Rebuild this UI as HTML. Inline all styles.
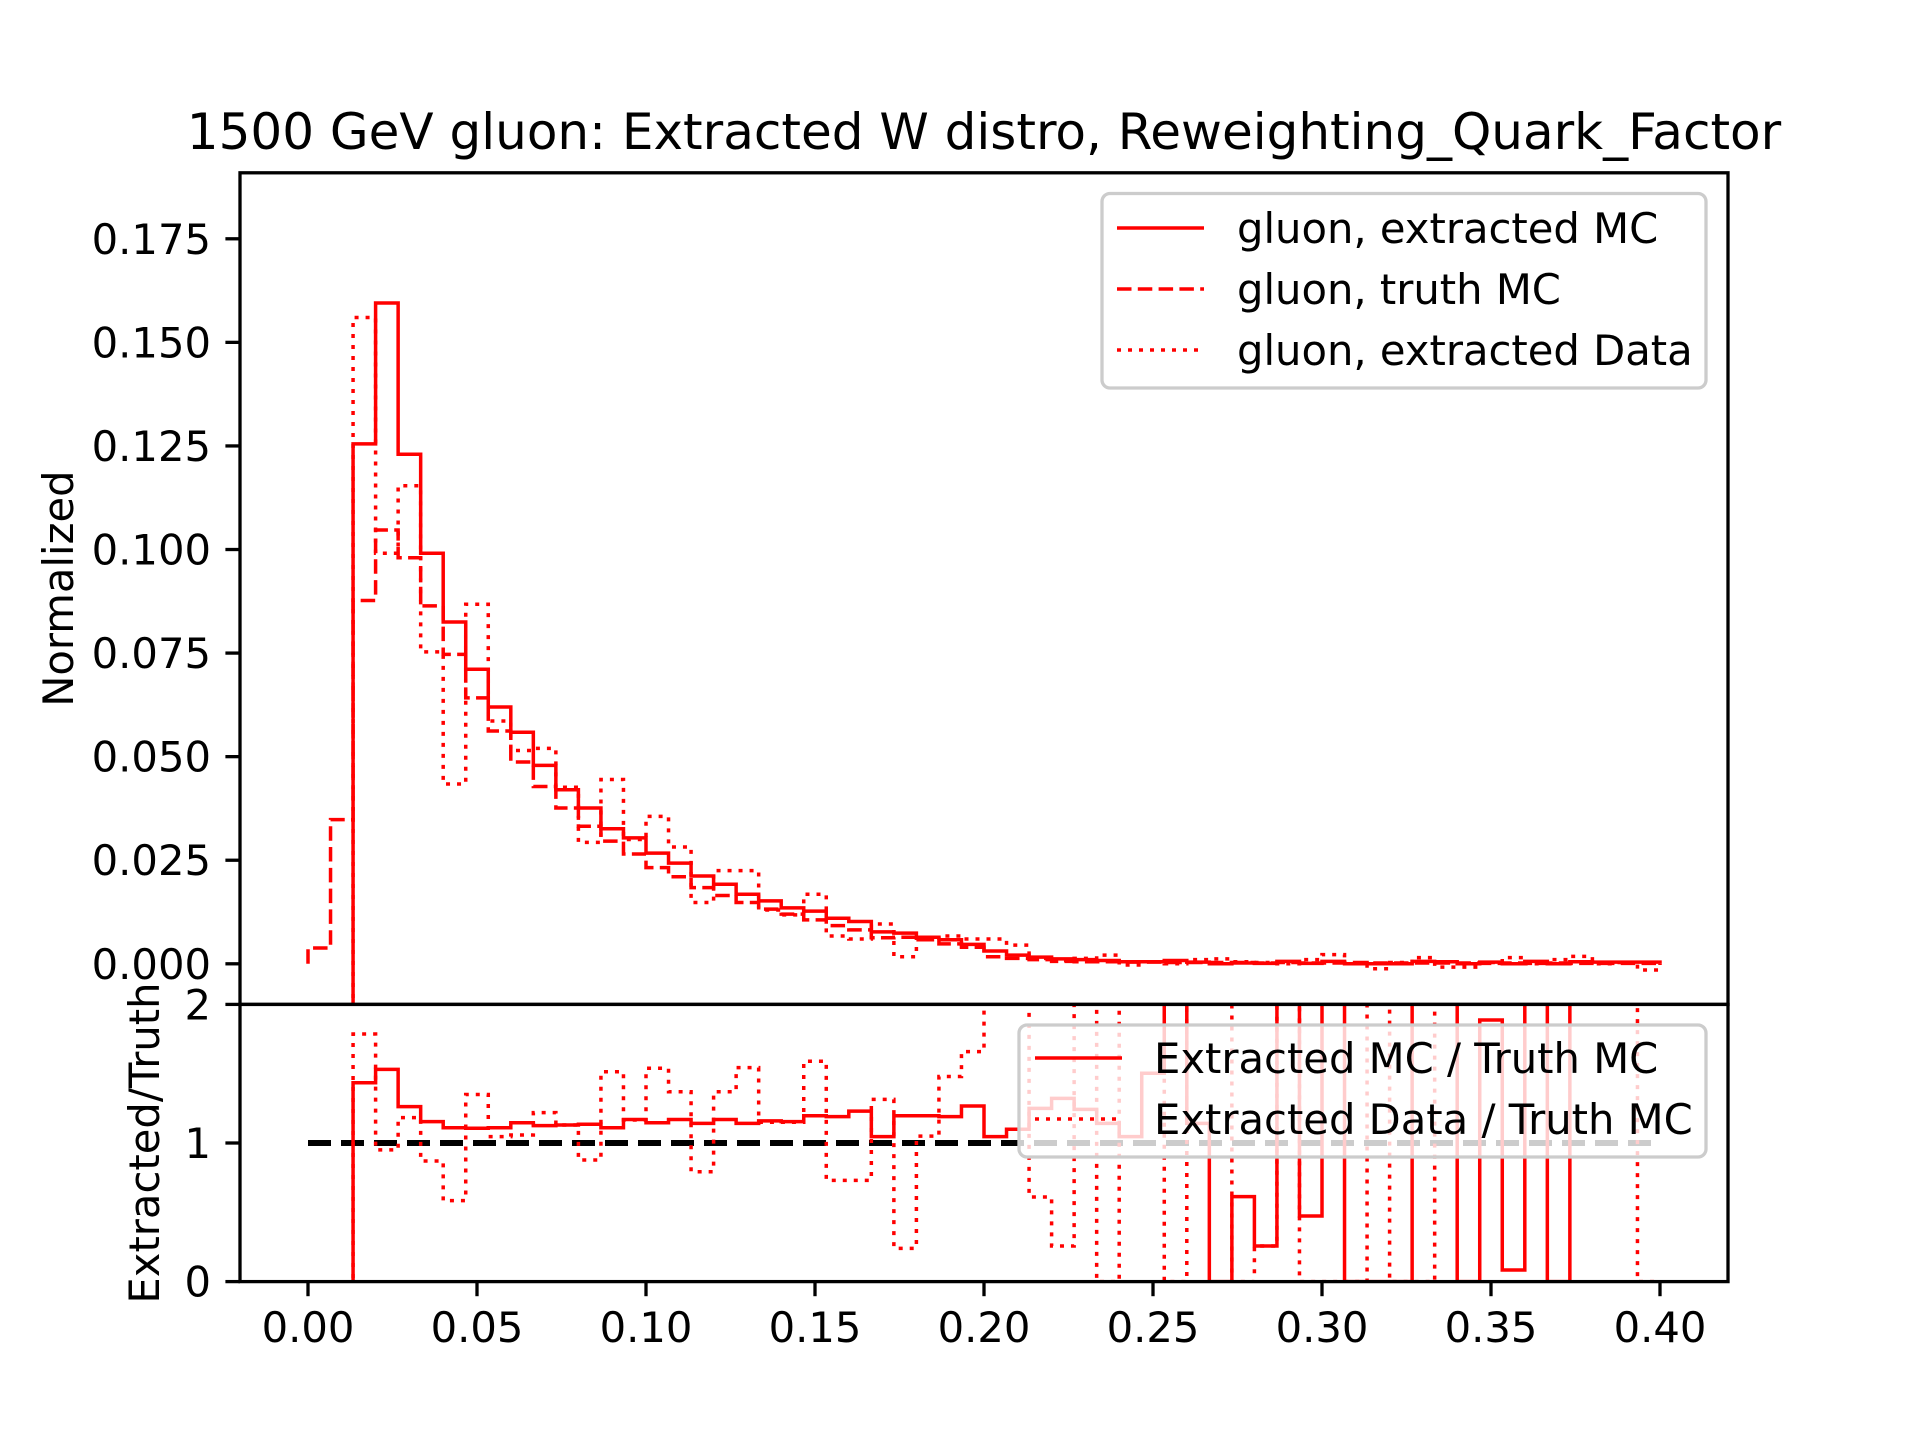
<!DOCTYPE html>
<html><head><meta charset="utf-8"><style>
html,body{margin:0;padding:0;background:#fff;}
svg{display:block;font-family:"DejaVu Sans","Liberation Sans",sans-serif;}
</style></head><body>
<svg id="fig" width="1920" height="1440" viewBox="0 0 1920 1440" xmlns="http://www.w3.org/2000/svg">
<defs>
<clipPath id="clipTop"><rect x="240" y="172.8" width="1488" height="831.6"/></clipPath>
<clipPath id="clipRat"><rect x="240" y="1004.4" width="1488" height="277.2"/></clipPath>
</defs>
<rect width="1920" height="1440" fill="#fff"/>
<text x="984" y="149" font-size="50" text-anchor="middle">1500 GeV gluon: Extracted W distro, Reweighting_Quark_Factor</text>
<g id="topMarks" clip-path="url(#clipTop)"></g>
<g id="ratMarks" clip-path="url(#clipRat)"></g>
<g id="axes"></g>
<text transform="translate(73,588.6) rotate(-90)" font-size="41.7" text-anchor="middle">Normalized</text>
<text transform="translate(159,1143) rotate(-90)" font-size="41.7" text-anchor="middle">Extracted/Truth</text>
<g>
<rect x="1102" y="193.5" width="604" height="194.5" rx="8" fill="#fff" fill-opacity="0.8" stroke="#cccccc" stroke-width="3.3"/>
<line x1="1117" y1="228" x2="1204" y2="228" stroke="#ff0000" stroke-width="3.5"/>
<text x="1237" y="243" font-size="41.7">gluon, extracted MC</text>
<line x1="1117" y1="289" x2="1204" y2="289" stroke="#ff0000" stroke-width="3.5" stroke-dasharray="14.5 6.3"/>
<text x="1237" y="304" font-size="41.7">gluon, truth MC</text>
<line x1="1117" y1="350" x2="1204" y2="350" stroke="#ff0000" stroke-width="3.5" stroke-dasharray="4 7"/>
<text x="1237" y="365" font-size="41.7">gluon, extracted Data</text>
</g>
<g>
<rect x="1019" y="1025" width="687" height="132" rx="8" fill="#fff" fill-opacity="0.8" stroke="#cccccc" stroke-width="3.3"/>
<line x1="1035" y1="1058" x2="1122" y2="1058" stroke="#ff0000" stroke-width="3.5"/>
<text x="1154" y="1073" font-size="41.7">Extracted MC / Truth MC</text>
<line x1="1035" y1="1119" x2="1122" y2="1119" stroke="#ff0000" stroke-width="3.5" stroke-dasharray="4 7"/>
<text x="1154" y="1134" font-size="41.7">Extracted Data / Truth MC</text>
</g>
</svg>
<script>
const binLo = 0, binHi = 0.4, nBins = 60;
const truthMC = [0.0038,0.0348,0.0877,0.1047,0.098,0.0864,0.0747,0.0642,0.0562,0.0487,0.0428,0.0376,0.0332,0.0296,0.0265,0.0232,0.021,0.0184,0.0165,0.0148,0.0132,0.012,0.0106,0.0092,0.0082,0.0063,0.0064,0.0058,0.0048,0.004,0.0017,0.0013,0.001,0.0006,0.0005,0.0005,0.0004,0.0004,0.0003,0.0003,0.0003,0.0003,0.0002,0.0003,0.0002,0.0002,0.0003,0.0002,0.0002,0.0002,0.0002,0.0002,0.0001,0.0002,0.0001,0.0002,0.0001,0.0001,0.0001,0.0001];
const extractedMC = [null,null,0.1255,0.1595,0.123,0.0991,0.0825,0.0711,0.062,0.0559,0.0479,0.042,0.0376,0.0326,0.0304,0.0267,0.0243,0.0212,0.0192,0.0168,0.0152,0.0135,0.0127,0.011,0.0102,0.0077,0.0074,0.0064,0.0058,0.0047,0.0031,0.0021,0.0016,0.0012,0.001,0.0008,0.0005,0.0005,0.0008,0.0004,0,0.0002,0.0001,0.0006,0.0001,0.0006,0,0,0,0.0006,0.0005,0,0.0004,0,0.0006,0,0.0005,0.0004,0.0004,0.0004];
const extractedData = [null,null,0.156,0.0991,0.1154,0.0753,0.0434,0.0868,0.0586,0.0515,0.052,0.0426,0.0293,0.0445,0.030,0.0356,0.0282,0.0148,0.0225,0.0225,0.013,0.0118,0.0168,0.0067,0.006,0.0096,0.0017,0.0058,0.0067,0.006,0.006,0.0045,0.0013,0.0008,0.0013,0.0021,-0.0003,0.0005,0,0.001,0.0012,0.0005,0.0003,0,0.001,0.0022,0,-0.0012,0.0003,0.0015,-0.0008,-0.0008,0.0003,0.0015,0,0.001,0.0018,0,0.0003,-0.0015];
const ratioMC = [null,null,1.435,1.531,1.262,1.154,1.11,1.106,1.11,1.146,1.125,1.13,1.135,1.11,1.17,1.146,1.17,1.142,1.17,1.142,1.16,1.154,1.197,1.19,1.23,1.046,1.197,1.197,1.19,1.267,1.046,1.099,1.25,1.322,1.243,1.142,1.046,1.503,3,1.142,0,0.613,0.257,3,0.473,3,0,0,0,3,3,0,1.887,0.084,3,0,3,null,null,null];
const ratioData = [null,null,1.786,0.95,1.183,0.87,0.584,1.35,1.046,1.058,1.219,1.13,0.877,1.514,1.166,1.539,1.37,0.793,1.37,1.544,1.15,1.15,1.59,0.73,0.73,1.315,0.24,1.05,1.48,1.659,3,3,0.61,0.257,3,0,3,3,0,3,3,0,0.257,3,0,0,0,3,0,0,3,3,3,3,3,3,3,3,3,0];
const xTicks = [0,0.05,0.1,0.15,0.2,0.25,0.3,0.35,0.4];
const xTickLabels = ["0.00","0.05","0.10","0.15","0.20","0.25","0.30","0.35","0.40"];
const yTicks = [0,0.025,0.05,0.075,0.1,0.125,0.15,0.175];
const yTickLabels = ["0.000","0.025","0.050","0.075","0.100","0.125","0.150","0.175"];
const rTicks = [0,1,2];
const rTickLabels = ["0","1","2"];
const refLine = 1;

const NS = "http://www.w3.org/2000/svg";
const X = v => 308 + v * 3380;
const YT = v => 963.8 - v * 4142.9;
const YR = r => 1281.6 - r * 138.6;
const edge = i => binLo + (binHi - binLo) * i / nBins;

function mk(tag, attrs, parent) {
  const e = document.createElementNS(NS, tag);
  for (const k in attrs) e.setAttribute(k, attrs[k]);
  parent.appendChild(e);
  return e;
}
function stepPath(vals, Y, baseY, startOffY, closeBase) {
  let d = "", started = false, last = null;
  for (let i = 0; i < vals.length; i++) {
    const v = vals[i];
    if (v === null) { continue; }
    const x0 = X(edge(i)), x1 = X(edge(i + 1)), y = Y(v);
    if (!started) {
      d += "M" + x0 + "," + (i === 0 ? baseY : startOffY) + "L" + x0 + "," + y;
      started = true;
    } else d += "L" + x0 + "," + y;
    d += "L" + x1 + "," + y;
    last = x1;
  }
  if (closeBase && last !== null) d += "L" + last + "," + baseY;
  return d;
}
const topG = document.getElementById("topMarks");
const ratG = document.getElementById("ratMarks");
const axesG = document.getElementById("axes");

let p;
p = mk("path", {d: stepPath(truthMC, YT, YT(0), 1020, true), fill: "none", stroke: "#ff0000", "stroke-width": 3.5, "stroke-dasharray": "14.5 6.3"}, topG);


p = mk("path", {d: stepPath(extractedData, YT, YT(0), 1020, true), fill: "none", stroke: "#ff0000", "stroke-width": 3.5, "stroke-dasharray": "4 7"}, topG);


p = mk("path", {d: stepPath(extractedMC, YT, YT(0), 1020, true), fill: "none", stroke: "#ff0000", "stroke-width": 3.5}, topG);



p = mk("line", {x1: X(binLo), x2: X(binHi), y1: YR(refLine), y2: YR(refLine), stroke: "#000", "stroke-width": 6, "stroke-dasharray": "23 10"}, ratG);


p = mk("path", {d: stepPath(ratioData, YR, 1300, 1300, false), fill: "none", stroke: "#ff0000", "stroke-width": 3.5, "stroke-dasharray": "4 7"}, ratG);


p = mk("path", {d: stepPath(ratioMC, YR, 1300, 1300, false), fill: "none", stroke: "#ff0000", "stroke-width": 3.5}, ratG);



p = mk("rect", {x: 240, y: 172.8, width: 1488, height: 831.6, fill: "none", stroke: "#000", "stroke-width": 3.3}, axesG);


p = mk("rect", {x: 240, y: 1004.4, width: 1488, height: 277.2, fill: "none", stroke: "#000", "stroke-width": 3.3}, axesG);



xTicks.forEach((v, i) => {
  const t = mk("line", {x1: X(v), x2: X(v), y1: 1281.6, y2: 1296.2, stroke: "#000", "stroke-width": 3.3}, axesG);
  
  
  const l = mk("text", {x: X(v), y: 1342, "font-size": 41.7, "text-anchor": "middle"}, axesG);
  l.textContent = xTickLabels[i];
  
  
});
yTicks.forEach((v, i) => {
  const t = mk("line", {x1: 225.4, x2: 240, y1: YT(v), y2: YT(v), stroke: "#000", "stroke-width": 3.3}, axesG);
  
  
  const l = mk("text", {x: 211, y: YT(v) + 15, "font-size": 41.7, "text-anchor": "end"}, axesG);
  l.textContent = yTickLabels[i];
  
  
});
rTicks.forEach((v, i) => {
  const t = mk("line", {x1: 225.4, x2: 240, y1: YR(v), y2: YR(v), stroke: "#000", "stroke-width": 3.3}, axesG);
  
  
  const l = mk("text", {x: 211, y: YR(v) + 15, "font-size": 41.7, "text-anchor": "end"}, axesG);
  l.textContent = rTickLabels[i];
  
  
});
</script>
</body></html>
